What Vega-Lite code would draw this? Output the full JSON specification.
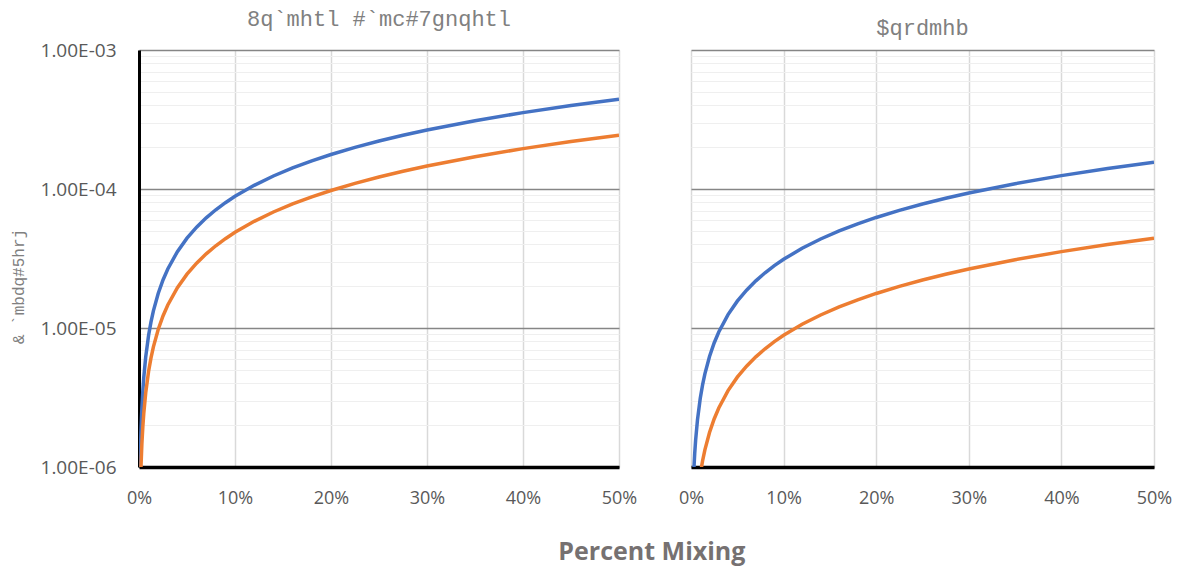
{
  "$schema": "https://vega.github.io/schema/vega-lite/v6.json",
  "padding": {"left": 10, "top": 8, "right": 5, "bottom": 12},
  "background": "#ffffff",
  "config": {"view": {"stroke": null}, "font": "Open Sans"},
  "title": {"text": "Percent Mixing", "orient": "bottom", "anchor": "middle", "font": "Open Sans", "fontSize": 25, "fontWeight": "bold", "color": "#767171", "offset": 33, "dx": 61},
  "spacing": 41,
  "datasets": {
    "left": [
      {"p": 0.1, "s": "a", "v": 8.86e-7}, {"p": 0.2, "s": "a", "v": 1.772e-6}, {"p": 0.3, "s": "a", "v": 2.658e-6}, {"p": 0.4, "s": "a", "v": 3.544e-6}, {"p": 0.5, "s": "a", "v": 4.43e-6}, {"p": 0.7, "s": "a", "v": 6.202e-6}, {"p": 1, "s": "a", "v": 8.86e-6}, {"p": 1.25, "s": "a", "v": 1.1075e-5}, {"p": 1.5, "s": "a", "v": 1.329e-5}, {"p": 2, "s": "a", "v": 1.772e-5}, {"p": 2.5, "s": "a", "v": 2.215e-5}, {"p": 3, "s": "a", "v": 2.658e-5}, {"p": 4, "s": "a", "v": 3.544e-5}, {"p": 5, "s": "a", "v": 4.43e-5}, {"p": 6, "s": "a", "v": 5.316e-5}, {"p": 7, "s": "a", "v": 6.202e-5}, {"p": 8, "s": "a", "v": 7.088e-5}, {"p": 9, "s": "a", "v": 7.974e-5}, {"p": 10, "s": "a", "v": 8.86e-5}, {"p": 12, "s": "a", "v": 1.0632e-4}, {"p": 14, "s": "a", "v": 1.2404e-4}, {"p": 16, "s": "a", "v": 1.4176e-4}, {"p": 18, "s": "a", "v": 1.5948e-4}, {"p": 20, "s": "a", "v": 1.772e-4}, {"p": 22.5, "s": "a", "v": 1.9935e-4}, {"p": 25, "s": "a", "v": 2.215e-4}, {"p": 27.5, "s": "a", "v": 2.4365e-4}, {"p": 30, "s": "a", "v": 2.658e-4}, {"p": 35, "s": "a", "v": 3.101e-4}, {"p": 40, "s": "a", "v": 3.544e-4}, {"p": 45, "s": "a", "v": 3.987e-4}, {"p": 50, "s": "a", "v": 4.43e-4},
      {"p": 0.1, "s": "b", "v": 4.88e-7}, {"p": 0.2, "s": "b", "v": 9.76e-7}, {"p": 0.3, "s": "b", "v": 1.464e-6}, {"p": 0.4, "s": "b", "v": 1.952e-6}, {"p": 0.5, "s": "b", "v": 2.44e-6}, {"p": 0.7, "s": "b", "v": 3.416e-6}, {"p": 1, "s": "b", "v": 4.88e-6}, {"p": 1.25, "s": "b", "v": 6.1e-6}, {"p": 1.5, "s": "b", "v": 7.32e-6}, {"p": 2, "s": "b", "v": 9.76e-6}, {"p": 2.5, "s": "b", "v": 1.22e-5}, {"p": 3, "s": "b", "v": 1.464e-5}, {"p": 4, "s": "b", "v": 1.952e-5}, {"p": 5, "s": "b", "v": 2.44e-5}, {"p": 6, "s": "b", "v": 2.928e-5}, {"p": 7, "s": "b", "v": 3.416e-5}, {"p": 8, "s": "b", "v": 3.904e-5}, {"p": 9, "s": "b", "v": 4.392e-5}, {"p": 10, "s": "b", "v": 4.88e-5}, {"p": 12, "s": "b", "v": 5.856e-5}, {"p": 14, "s": "b", "v": 6.832e-5}, {"p": 16, "s": "b", "v": 7.808e-5}, {"p": 18, "s": "b", "v": 8.784e-5}, {"p": 20, "s": "b", "v": 9.76e-5}, {"p": 22.5, "s": "b", "v": 1.098e-4}, {"p": 25, "s": "b", "v": 1.22e-4}, {"p": 27.5, "s": "b", "v": 1.342e-4}, {"p": 30, "s": "b", "v": 1.464e-4}, {"p": 35, "s": "b", "v": 1.708e-4}, {"p": 40, "s": "b", "v": 1.952e-4}, {"p": 45, "s": "b", "v": 2.196e-4}, {"p": 50, "s": "b", "v": 2.44e-4}
    ],
    "right": [
      {"p": 0.1, "s": "a", "v": 3.12e-7}, {"p": 0.2, "s": "a", "v": 6.24e-7}, {"p": 0.3, "s": "a", "v": 9.36e-7}, {"p": 0.4, "s": "a", "v": 1.248e-6}, {"p": 0.5, "s": "a", "v": 1.56e-6}, {"p": 0.7, "s": "a", "v": 2.184e-6}, {"p": 1, "s": "a", "v": 3.12e-6}, {"p": 1.25, "s": "a", "v": 3.9e-6}, {"p": 1.5, "s": "a", "v": 4.68e-6}, {"p": 2, "s": "a", "v": 6.24e-6}, {"p": 2.5, "s": "a", "v": 7.8e-6}, {"p": 3, "s": "a", "v": 9.36e-6}, {"p": 4, "s": "a", "v": 1.248e-5}, {"p": 5, "s": "a", "v": 1.56e-5}, {"p": 6, "s": "a", "v": 1.872e-5}, {"p": 7, "s": "a", "v": 2.184e-5}, {"p": 8, "s": "a", "v": 2.496e-5}, {"p": 9, "s": "a", "v": 2.808e-5}, {"p": 10, "s": "a", "v": 3.12e-5}, {"p": 12, "s": "a", "v": 3.744e-5}, {"p": 14, "s": "a", "v": 4.368e-5}, {"p": 16, "s": "a", "v": 4.992e-5}, {"p": 18, "s": "a", "v": 5.616e-5}, {"p": 20, "s": "a", "v": 6.24e-5}, {"p": 22.5, "s": "a", "v": 7.02e-5}, {"p": 25, "s": "a", "v": 7.8e-5}, {"p": 27.5, "s": "a", "v": 8.58e-5}, {"p": 30, "s": "a", "v": 9.36e-5}, {"p": 35, "s": "a", "v": 1.092e-4}, {"p": 40, "s": "a", "v": 1.248e-4}, {"p": 45, "s": "a", "v": 1.404e-4}, {"p": 50, "s": "a", "v": 1.56e-4},
      {"p": 0.5, "s": "b", "v": 4.43e-7}, {"p": 0.7, "s": "b", "v": 6.202e-7}, {"p": 1, "s": "b", "v": 8.86e-7}, {"p": 1.25, "s": "b", "v": 1.1075e-6}, {"p": 1.5, "s": "b", "v": 1.329e-6}, {"p": 2, "s": "b", "v": 1.772e-6}, {"p": 2.5, "s": "b", "v": 2.215e-6}, {"p": 3, "s": "b", "v": 2.658e-6}, {"p": 4, "s": "b", "v": 3.544e-6}, {"p": 5, "s": "b", "v": 4.43e-6}, {"p": 6, "s": "b", "v": 5.316e-6}, {"p": 7, "s": "b", "v": 6.202e-6}, {"p": 8, "s": "b", "v": 7.088e-6}, {"p": 9, "s": "b", "v": 7.974e-6}, {"p": 10, "s": "b", "v": 8.86e-6}, {"p": 12, "s": "b", "v": 1.0632e-5}, {"p": 14, "s": "b", "v": 1.2404e-5}, {"p": 16, "s": "b", "v": 1.4176e-5}, {"p": 18, "s": "b", "v": 1.5948e-5}, {"p": 20, "s": "b", "v": 1.772e-5}, {"p": 22.5, "s": "b", "v": 1.9935e-5}, {"p": 25, "s": "b", "v": 2.215e-5}, {"p": 27.5, "s": "b", "v": 2.4365e-5}, {"p": 30, "s": "b", "v": 2.658e-5}, {"p": 35, "s": "b", "v": 3.101e-5}, {"p": 40, "s": "b", "v": 3.544e-5}, {"p": 45, "s": "b", "v": 3.987e-5}, {"p": 50, "s": "b", "v": 4.43e-5}
    ]
  },
  "hconcat": [
    {
      "width": 480,
      "height": 417,
      "title": {"text": "8q`mhtl #`mc#7gnqhtl", "font": "Liberation Mono", "fontSize": 22, "fontWeight": "normal", "color": "#808080", "offset": 10},
      "data": {"name": "left"},
      "mark": {"type": "line", "strokeWidth": 3.5, "clip": true},
      "encoding": {
        "x": {"field": "p", "type": "quantitative", "scale": {"domain": [0, 50], "nice": false, "zero": false},
          "axis": {"values": [0, 10, 20, 30, 40, 50], "labelExpr": "datum.value + '%'", "title": null, "grid": true, "gridColor": "#d9d9d9", "gridWidth": 1.5, "domainColor": "#000000", "domainWidth": 3.5, "ticks": false, "labelPadding": 22, "labelFontSize": 18, "labelColor": "#595959", "labelFont": "Open Sans", "labelFlush": false, "labelOverlap": false}},
        "y": {"field": "v", "type": "quantitative", "scale": {"type": "log", "domain": [1e-6, 1e-3], "nice": false},
          "axis": {"values": [1e-6, 2e-6, 3e-6, 4e-6, 5e-6, 6e-6, 7e-6, 8e-6, 9e-6, 1e-5, 2e-5, 3e-5, 4e-5, 5e-5, 6e-5, 7e-5, 8e-5, 9e-5, 1e-4, 2e-4, 3e-4, 4e-4, 5e-4, 6e-4, 7e-4, 8e-4, 9e-4, 1e-3],
            "labelExpr": "abs(log(datum.value)/LN10 - round(log(datum.value)/LN10)) < 0.001 ? '1.00E-0' + round(-log(datum.value)/LN10) : ''",
            "labelOverlap": false, "labelFontSize": 19, "labelColor": "#595959", "labelFont": "Open Sans", "labelPadding": 23, "ticks": false,
            "domainColor": "#000000", "domainWidth": 3,
            "grid": true,
            "gridColor": {"condition": {"test": "abs(log(datum.value)/LN10 - round(log(datum.value)/LN10)) < 0.001", "value": "#868686"}, "value": "#efefef"},
            "gridWidth": {"condition": {"test": "abs(log(datum.value)/LN10 - round(log(datum.value)/LN10)) < 0.001", "value": 1.5}, "value": 1},
            "title": "& `mbdq#5hrj", "titleFont": "Liberation Mono", "titleFontSize": 16, "titleFontWeight": "normal", "titleColor": "#808080", "titlePadding": 14, "titleY": 236}},
        "color": {"field": "s", "type": "nominal", "scale": {"domain": ["a", "b"], "range": ["#4472C4", "#ED7D31"]}, "legend": null}
      }
    },
    {
      "width": 463,
      "height": 417,
      "title": {"text": "$qrdmhb", "font": "Liberation Mono", "fontSize": 22, "fontWeight": "normal", "color": "#808080", "offset": 10},
      "data": {"name": "right"},
      "mark": {"type": "line", "strokeWidth": 3.5, "clip": true},
      "encoding": {
        "x": {"field": "p", "type": "quantitative", "scale": {"domain": [0, 50], "nice": false, "zero": false},
          "axis": {"values": [0, 10, 20, 30, 40, 50], "labelExpr": "datum.value + '%'", "title": null, "grid": true, "gridColor": "#d9d9d9", "gridWidth": 1.5, "domainColor": "#000000", "domainWidth": 3.5, "ticks": false, "labelPadding": 22, "labelFontSize": 18, "labelColor": "#595959", "labelFont": "Open Sans", "labelFlush": false, "labelOverlap": false}},
        "y": {"field": "v", "type": "quantitative", "scale": {"type": "log", "domain": [1e-6, 1e-3], "nice": false},
          "axis": {"values": [1e-6, 2e-6, 3e-6, 4e-6, 5e-6, 6e-6, 7e-6, 8e-6, 9e-6, 1e-5, 2e-5, 3e-5, 4e-5, 5e-5, 6e-5, 7e-5, 8e-5, 9e-5, 1e-4, 2e-4, 3e-4, 4e-4, 5e-4, 6e-4, 7e-4, 8e-4, 9e-4, 1e-3],
            "labels": false, "ticks": false, "domain": false, "title": null,
            "grid": true,
            "gridColor": {"condition": {"test": "abs(log(datum.value)/LN10 - round(log(datum.value)/LN10)) < 0.001", "value": "#868686"}, "value": "#efefef"},
            "gridWidth": {"condition": {"test": "abs(log(datum.value)/LN10 - round(log(datum.value)/LN10)) < 0.001", "value": 1.5}, "value": 1}}},
        "color": {"field": "s", "type": "nominal", "scale": {"domain": ["a", "b"], "range": ["#4472C4", "#ED7D31"]}, "legend": null}
      }
    }
  ]
}
